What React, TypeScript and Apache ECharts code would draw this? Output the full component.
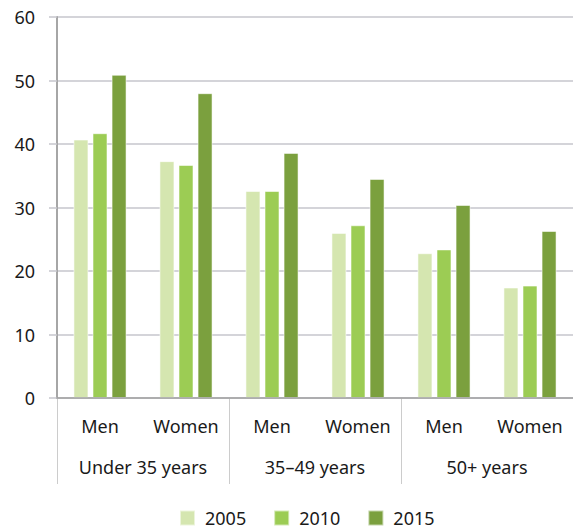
import React, { useEffect, useRef } from "react";
import * as echarts from "echarts";

const categories = ["Men", "Women", "Men", "Women", "Men", "Women"];
const groups = ["Under 35 years", "35–49 years", "50+ years"];
const seriesNames = ["2005", "2010", "2015"];
const values2005 = [40.7, 37.3, 32.6, 26.0, 22.8, 17.4];
const values2010 = [41.7, 36.7, 32.6, 27.2, 23.4, 17.7];
const values2015 = [50.9, 48.0, 38.6, 34.5, 30.4, 26.3];
const colors = ["#d5e6b0", "#9ccc54", "#7ba03e"];
const yTicks = { min: 0, max: 60, interval: 10 };

const FONT = "Noto Sans";

export default function App() {
  const ref = useRef<HTMLDivElement>(null);
  useEffect(() => {
    if (!ref.current) return;
    const chart = echarts.init(ref.current, null, { renderer: "svg" });
    const data = [values2005, values2010, values2015];
    chart.setOption({
      animation: false,
      textStyle: { fontFamily: FONT },
      color: colors,
      legend: {
        left: 179,
        top: 508,
        padding: 0,
        itemWidth: 15,
        itemHeight: 15,
        itemGap: 27,
        icon: "rect",
        textStyle: { fontSize: 18, lineHeight: 20, color: "#1a1a1a", fontFamily: FONT, padding: [0, 0, 0, 5] },
        data: seriesNames,
      },
      grid: { left: 57, top: 17, right: 0, bottom: 131, containLabel: false },
      xAxis: [
        {
          type: "category",
          data: categories,
          position: "bottom",
          axisLine: { show: true, lineStyle: { color: "#a0a0a0", width: 1.5 } },
          axisTick: { show: false },
          axisLabel: { margin: 19, fontSize: 18, color: "#1a1a1a", fontFamily: FONT, interval: 0 },
          z: 5,
        },
        {
          type: "category",
          data: groups,
          position: "bottom",
          axisLine: { show: false },
          axisTick: { show: true, length: 86, lineStyle: { color: "#cccccc", width: 1 } },
          axisLabel: { margin: 60, fontSize: 18, color: "#1a1a1a", fontFamily: FONT, interval: 0 },
        },
      ],
      yAxis: {
        type: "value",
        min: yTicks.min,
        max: yTicks.max,
        interval: yTicks.interval,
        axisLine: { show: true, lineStyle: { color: "#a6a6a6", width: 2 } },
        axisTick: { show: true, length: 8, lineStyle: { color: "#c6c6cc", width: 1.5 } },
        axisLabel: { margin: 22, fontSize: 18, color: "#1a1a1a", fontFamily: FONT },
        splitLine: { show: true, lineStyle: { color: "#c6c6cc", width: 1.5 } },
      },
      series: seriesNames.map((name, i) => ({
        name,
        type: "bar",
        xAxisIndex: 0,
        data: data[i],
        barWidth: 15,
        barGap: "27%",
        itemStyle: { color: colors[i], borderColor: "rgba(255,255,255,0.55)", borderWidth: 1 },
      })),
    });
    return () => chart.dispose();
  }, []);
  return <div ref={ref} style={{ width: 573, height: 529, position: "absolute", left: 0, top: 0 }} />;
}
